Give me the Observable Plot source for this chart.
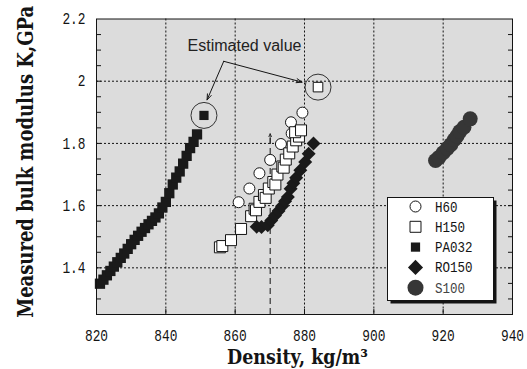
<!DOCTYPE html>
<html><head><meta charset="utf-8">
<script src="https://cdn.jsdelivr.net/npm/d3@7"></script>
<script src="https://cdn.jsdelivr.net/npm/@observablehq/plot@0.6"></script>
<style>
html,body{margin:0;padding:0;background:#fff;}
#wrap{position:relative;width:527px;height:369px;}
</style></head><body><div id="wrap"></div>
<script>
// ---- data ----
const xTicks = [820, 840, 860, 880, 900, 920, 940];
const xGrid = [840, 860, 880, 900, 920];
const yTicks = [1.4, 1.6, 1.8, 2.0, 2.2];
const yGrid = [1.4, 1.6, 1.8, 2.0];
const yMinor = [1.25,1.3,1.35,1.4,1.45,1.5,1.55,1.6,1.65,1.7,1.75,1.8,1.85,1.9,1.95,2.0,2.05,2.1,2.15];
const xDomain = [820, 940];
const yDomain = [1.25, 2.2];

const seriesNames = ["H60", "H150", "PA032", "RO150", "S100"];

const h60Density = [861.0, 864.1, 867.0, 870.1, 873.2, 876.3, 876.1, 879.4];
const h60K       = [1.611, 1.655, 1.704, 1.747, 1.798, 1.832, 1.868, 1.899];

const h150Density = [855.6, 856.3, 858.8, 861.7, 864.6, 865.6, 866.0, 867.0, 868.3, 868.8, 869.7, 871.0, 871.6, 872.2, 873.6, 874.0, 874.6, 875.6, 876.6, 877.6, 878.4, 877.3, 879.0];
const h150K       = [1.466, 1.470, 1.489, 1.525, 1.566, 1.590, 1.585, 1.612, 1.634, 1.625, 1.655, 1.676, 1.668, 1.700, 1.726, 1.722, 1.748, 1.768, 1.790, 1.810, 1.822, 1.836, 1.842];

const pa032Density = [821,822,823,824,825,826,827,828,829,830,831,832,833,834,835,836,837,838,839,840,841,842,843,844,845,846,847,848,849];
const pa032K       = [1.349,1.362,1.376,1.390,1.404,1.418,1.432,1.446,1.461,1.476,1.490,1.503,1.516,1.528,1.540,1.551,1.562,1.575,1.594,1.612,1.640,1.668,1.690,1.710,1.735,1.760,1.785,1.805,1.829];

const ro150Density = [866.2, 867.6, 869.4, 870.4, 871.5, 872.5, 873.5, 874.4, 875.2, 876.0, 876.8, 877.6, 878.8, 880.2, 881.2, 882.6];
const ro150K       = [1.532, 1.531, 1.537, 1.552, 1.568, 1.583, 1.598, 1.614, 1.628, 1.654, 1.672, 1.690, 1.714, 1.740, 1.767, 1.800];

const s100Density = [917.8, 918.8, 920.0, 921.2, 922.2, 923.2, 924.0, 924.8, 926.0, 927.8];
const s100K       = [1.745, 1.755, 1.770, 1.784, 1.796, 1.812, 1.824, 1.838, 1.852, 1.879];

// estimated values
const estPA032 = {d: 851.0, k: 1.890};
const estH150  = {d: 883.9, k: 1.981};
const estLabel = "Estimated value";
const estLabelPos = {d: 862.7, k: 2.112};
const estArrowFrom = {d: 856.7, k: 2.064};
const estArrowTo = [{d: 851.9, k: 1.940}, {d: 879.3, k: 1.997}];

// vertical dashed marker
const markerDensity = 870.1;
const markerTipK = 1.831;

const yTitle = "Measured bulk modulus K,GPa";
const xTitle = "Density, kg/m\u00b3";

const toRows = (xs, ys) => xs.map((x, i) => ({d: x, k: ys[i]}));
const h60 = toRows(h60Density, h60K);
const h150 = toRows(h150Density, h150K);
const pa032 = toRows(pa032Density, pa032K);
const ro150 = toRows(ro150Density, ro150K);
const s100 = toRows(s100Density, s100K);

const ink = "#141414";
const tickFont = "Liberation Mono";
const titleFont = "DejaVu Serif";

const plot = Plot.plot({
  width: 527, height: 369,
  marginLeft: 96, marginRight: 15, marginTop: 18.5, marginBottom: 55,
  x: {domain: xDomain},
  y: {domain: yDomain},
  style: {fontFamily: tickFont, fontSize: "14px", color: ink, background: "#fff", overflow: "visible"},
  marks: [
    Plot.frame({fill: "#dcdcdc", stroke: null}),
    Plot.gridX(xGrid, {stroke: ink, strokeOpacity: 1, strokeDasharray: "2,2"}),
    Plot.gridY(yGrid, {stroke: ink, strokeOpacity: 1, strokeDasharray: "2,2"}),
    Plot.ruleX([markerDensity], {x: d => d, y1: yDomain[0], y2: markerTipK - 0.01, stroke: ink, strokeDasharray: "6,4"}),
    Plot.arrow([markerDensity], {x1: d => d, x2: d => d, y1: markerTipK - 0.03, y2: markerTipK, stroke: ink, strokeWidth: 0.8, headLength: 7, headAngle: 50}),
    Plot.axisY(yTicks, {anchor: "left", tickSize: 0, tickPadding: 11, label: null, tickFormat: d => d === 2 ? "2" : d.toFixed(1)}),
    Plot.axisY(yMinor, {anchor: "left", tickSize: 5, dx: 5, label: null, tickFormat: () => ""}),
    Plot.axisY(yMinor, {anchor: "right", tickSize: 5, dx: -5, label: null, tickFormat: () => ""}),
    Plot.axisX(xTicks, {anchor: "bottom", tickSize: 0, tickPadding: 15, label: null, tickFormat: d => String(d)}),
    Plot.axisX(xGrid, {anchor: "bottom", tickSize: 5, dy: -5, label: null, tickFormat: () => ""}),
    // estimated circles
    Plot.dot([estPA032, estH150], {x: "d", y: "k", r: 13, fill: null, stroke: "#333", strokeWidth: 1}),
    // series
    Plot.dot(h60, {x: "d", y: "k", r: 5.5, fill: "white", stroke: ink, strokeWidth: 1}),
    Plot.dot(h150, {x: "d", y: "k", symbol: "square", r: 6.2, fill: "white", stroke: ink, strokeWidth: 1}),
    Plot.dot([estH150], {x: "d", y: "k", symbol: "square", r: 5.4, fill: "white", stroke: ink, strokeWidth: 1}),
    Plot.dot(ro150, {x: "d", y: "k", symbol: "diamond2", r: 6.3, fill: "#1a1a1a", stroke: null}),
    Plot.dot(pa032, {x: "d", y: "k", symbol: "square", r: 5.8, fill: "#1a1a1a", stroke: null}),
    Plot.dot([estPA032], {x: "d", y: "k", symbol: "square", r: 5.2, fill: "#1a1a1a", stroke: null}),
    Plot.dot(s100, {x: "d", y: "k", r: 7.5, fill: "#363636", stroke: null}),
    // annotation
    Plot.text([estLabel], {x: estLabelPos.d, y: estLabelPos.k, text: d => d, fontFamily: "Liberation Sans", fontSize: 16, fill: "#222"}),
    Plot.arrow(estArrowTo, {x1: estArrowFrom.d, y1: estArrowFrom.k, x2: "d", y2: "k", stroke: ink, strokeWidth: 1, headLength: 9, headAngle: 40}),
    Plot.frame({stroke: ink, strokeWidth: 1}),
    // titles
    Plot.text([yTitle], {frameAnchor: "left", textAnchor: "middle", lineAnchor: "middle", dx: -71, dy: -5, rotate: -90, text: d => d, fontFamily: titleFont, fontWeight: "bold", fontSize: 23, fill: ink}),
    Plot.text([xTitle], {frameAnchor: "bottom", textAnchor: "middle", lineAnchor: "middle", dx: -7, dy: 43, text: d => d, fontFamily: titleFont, fontWeight: "bold", fontSize: 21, fill: ink})
  ]
});
document.getElementById("wrap").appendChild(plot);

const svg = d3.select(plot);
svg.selectAll("text").filter(function() { return this.textContent === yTitle; })
  .attr("textLength", 312).attr("lengthAdjust", "spacingAndGlyphs");
svg.selectAll("text").filter(function() { return this.textContent === xTitle; })
  .attr("textLength", 141).attr("lengthAdjust", "spacingAndGlyphs");
svg.selectAll('g[aria-label="x-axis tick label"] text, g[aria-label="y-axis tick label"] text')
  .filter(function() { return this.textContent.length > 0; })
  .each(function() {
    const n = this.textContent.length;
    d3.select(this).attr("font-size", 16).attr("textLength", 7.7 * n).attr("lengthAdjust", "spacingAndGlyphs");
  });

// ---- legend (inside the plot area) ----
const lg = d3.select("#wrap").append("svg")
  .attr("width", 527).attr("height", 369)
  .style("position", "absolute").style("left", "0").style("top", "0");
const bx = 387, by = 197, bw = 106, bh = 103;
lg.append("rect").attr("x", bx + 3.5).attr("y", by + 3.5).attr("width", bw).attr("height", bh).attr("fill", ink);
lg.append("rect").attr("x", bx + 0.5).attr("y", by + 0.5).attr("width", bw).attr("height", bh).attr("fill", "white").attr("stroke", ink);
const legendStyles = [
  {sym: d3.symbolCircle, r: 5.5, fill: "white", stroke: ink},
  {sym: d3.symbolSquare, r: 6.2, fill: "white", stroke: ink},
  {sym: d3.symbolSquare, r: 5.2, fill: "#1a1a1a", stroke: "none"},
  {sym: d3.symbolDiamond2, r: 6.8, fill: "#1a1a1a", stroke: "none"},
  {sym: d3.symbolCircle, r: 8, fill: "#363636", stroke: "none"}
];
seriesNames.forEach((name, i) => {
  const y = 206.5 + i * 20.3;
  const st = legendStyles[i];
  lg.append("path")
    .attr("d", d3.symbol(st.sym, Math.PI * st.r * st.r)())
    .attr("transform", `translate(415.5,${y})`)
    .attr("fill", st.fill).attr("stroke", st.stroke);
  lg.append("text").attr("x", 435).attr("y", y).attr("dy", "0.36em")
    .attr("font-family", tickFont).attr("font-size", 14)
    .attr("fill", i === 4 ? "#444" : ink)
    .attr("textLength", 7.5 * name.length).attr("lengthAdjust", "spacingAndGlyphs")
    .text(name);
});
</script>
</body></html>
